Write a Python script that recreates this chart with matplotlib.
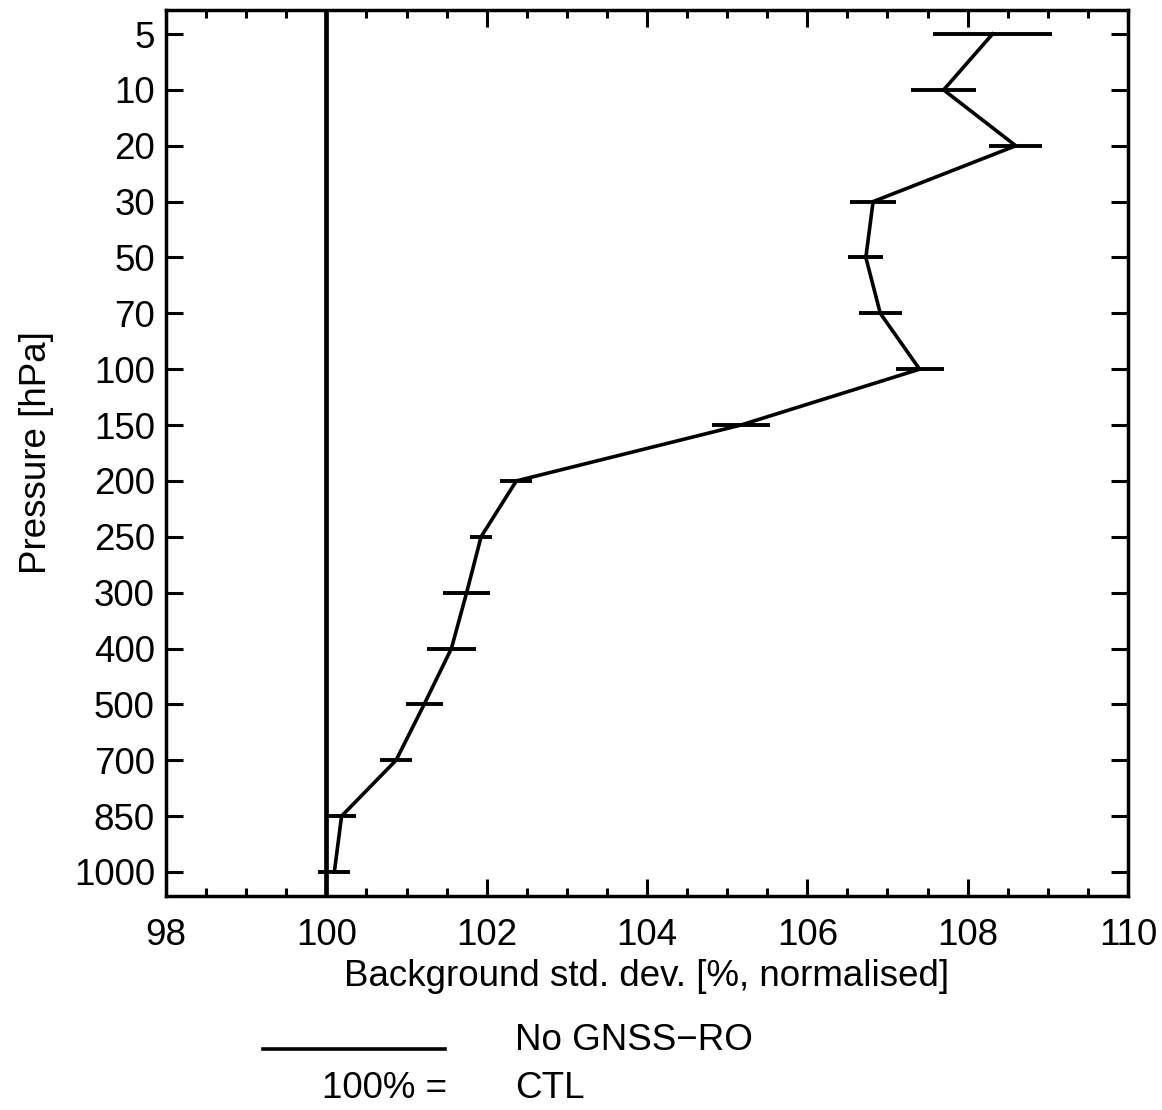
import matplotlib
matplotlib.use("Agg")
import matplotlib.pyplot as plt
from matplotlib.ticker import MultipleLocator

plt.rcParams['font.family'] = ['Liberation Sans', 'DejaVu Sans']

levels = ["5", "10", "20", "30", "50", "70", "100", "150", "200", "250",
          "300", "400", "500", "700", "850", "1000"]
values = [108.31, 107.70, 108.60, 106.82, 106.73, 106.91, 107.40, 105.17,
          102.37, 101.93, 101.75, 101.56, 101.22, 100.87, 100.19, 100.10]
errors = [0.74, 0.41, 0.33, 0.29, 0.22, 0.27, 0.30, 0.36,
          0.20, 0.14, 0.29, 0.31, 0.23, 0.20, 0.18, 0.20]
reference = 100.0
xticks = [98, 100, 102, 104, 106, 108, 110]

FS = 26.5

fig = plt.figure(figsize=(11.62, 11.10), dpi=100)
ax = fig.add_axes([166/1162, 1-896/1110, (1128-166)/1162, (896-10)/1110])

ypos = list(range(len(levels)))
ax.axvline(reference, color='black', lw=3.4, zorder=2)
ax.errorbar(values, ypos, xerr=errors, color='black', lw=2.6,
            elinewidth=2.8, capsize=0, zorder=3)

ax.set_xlim(98, 110)
ax.set_ylim(len(levels) - 1 + 0.43, -0.43)
ax.set_yticks(ypos)
ax.set_yticklabels(levels)
ax.set_xticks(xticks)
ax.set_xticklabels([str(t) for t in xticks])
ax.xaxis.set_minor_locator(MultipleLocator(0.5))

ax.tick_params(axis='both', which='major', direction='in', length=12,
               width=2.2, labelsize=FS, top=True, right=True)
ax.tick_params(axis='x', which='major', pad=16)
ax.tick_params(axis='y', which='major', pad=8)
ax.tick_params(axis='x', which='minor', direction='in', length=6,
               width=2.2, top=True)
ax.tick_params(axis='y', which='minor', left=False, right=False)
for s in ax.spines.values():
    s.set_linewidth(2.5)

ax.set_xlabel("Background std. dev. [%, normalised]", fontsize=FS, labelpad=4)
ax.set_ylabel("Pressure [hPa]", fontsize=FS, labelpad=14)

# legend-like annotation below the axes
fig.add_artist(plt.Line2D([263/1162, 445/1162], [1-1049/1110, 1-1049/1110],
                          color='black', lw=2.6))
fig.text(515/1162, 1-1040/1110, "No GNSS\u2212RO", fontsize=FS,
         ha='left', va='center')
fig.text(447/1162, 1-1089/1110, "100% =", fontsize=FS, ha='right', va='center')
fig.text(515/1162, 1-1089/1110, "CTL", fontsize=FS, ha='left', va='center')

fig.savefig("out.png", dpi=100)
